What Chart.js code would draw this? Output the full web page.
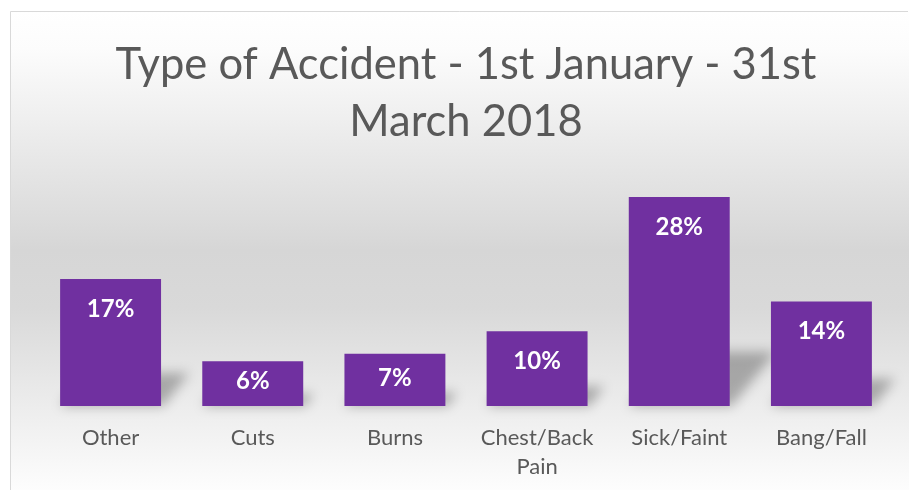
<!DOCTYPE html>
<html>
<head>
<meta charset="utf-8">
<script src="https://cdn.jsdelivr.net/npm/chart.js@4.4.1/dist/chart.umd.min.js"></script>
<style>
  html, body { margin: 0; padding: 0; background: #ffffff; }
  #wrap { position: relative; width: 909px; height: 490px; }
</style>
</head>
<body>
<div id="wrap"><canvas id="c" width="909" height="490"></canvas></div>
<script>
const categories = ["Other", "Cuts", "Burns", ["Chest/Back", "Pain"], "Sick/Faint", "Bang/Fall"];
const percentValues = [17, 6, 7, 10, 28, 14];
const chartTitle = ["Type of Accident - 1st January - 31st", "March 2018"];

const BASE_FONT = "Lato, 'Open Sans', 'DejaVu Sans', sans-serif";

const backgroundPlugin = {
  id: 'bgPlugin',
  beforeDraw(chart) {
    const ctx = chart.ctx;
    const W = chart.width, H = chart.height;
    ctx.save();
    const g = ctx.createLinearGradient(0, 11, 0, H);
    g.addColorStop(0, '#ffffff');
    g.addColorStop(0.08, '#fcfcfc');
    g.addColorStop(0.5, '#d6d6d6');
    g.addColorStop(0.62, '#d9d9d9');
    g.addColorStop(1, '#fdfdfd');
    ctx.fillStyle = g;
    ctx.fillRect(10, 11, W - 10, H - 11);
    ctx.strokeStyle = '#d9d9d9';
    ctx.lineWidth = 1;
    ctx.beginPath();
    ctx.moveTo(10.5, H);
    ctx.lineTo(10.5, 11.5);
    ctx.lineTo(W - 1, 11.5);
    ctx.stroke();
    ctx.restore();
  }
};

const shadowPlugin = {
  id: 'shadowPlugin',
  beforeDatasetsDraw(chart) {
    const ctx = chart.ctx;
    const meta = chart.getDatasetMeta(0);
    ctx.save();
    ctx.filter = 'blur(6px)';
    ctx.fillStyle = 'rgba(0,0,0,0.28)';
    meta.data.forEach(bar => {
      const p = bar.getProps(['x', 'y', 'base', 'width'], true);
      const h = p.base - p.y;
      const sh = Math.max(12, h * 0.26);
      const shift = sh * 0.85;
      const l = p.x - p.width / 2, r = p.x + p.width / 2;
      ctx.beginPath();
      ctx.moveTo(l, p.base);
      ctx.lineTo(r + 2, p.base);
      ctx.lineTo(r + shift, p.base - sh);
      ctx.lineTo(l + shift, p.base - sh);
      ctx.closePath();
      ctx.fill();
    });
    ctx.restore();
  }
};

const labelPlugin = {
  id: 'labelPlugin',
  afterDatasetsDraw(chart) {
    const ctx = chart.ctx;
    const meta = chart.getDatasetMeta(0);
    const data = chart.data.datasets[0].data;
    ctx.save();
    ctx.fillStyle = '#ffffff';
    ctx.font = "bold 24px " + BASE_FONT;
    ctx.textAlign = 'center';
    ctx.textBaseline = 'middle';
    meta.data.forEach((bar, i) => {
      const p = bar.getProps(['x', 'y', 'base'], true);
      const y = Math.min(p.y + 30, (p.y + p.base) / 2 - 2);
      ctx.fillText(data[i] + '%', p.x, y);
    });
    ctx.restore();
  }
};

new Chart(document.getElementById('c'), {
  type: 'bar',
  data: {
    labels: categories,
    datasets: [{
      data: percentValues,
      backgroundColor: '#7030A0',
      borderWidth: 0,
      categoryPercentage: 0.71,
      barPercentage: 1.0
    }]
  },
  options: {
    responsive: false,
    animation: false,
    devicePixelRatio: 1,
    layout: { padding: { left: 39.5, right: 16.5, top: 0, bottom: 0 } },
    plugins: {
      legend: { display: false },
      tooltip: { enabled: false },
      title: {
        display: true,
        text: chartTitle,
        color: '#595959',
        font: { family: BASE_FONT, size: 43.5, weight: 'normal', lineHeight: 1.31 },
        padding: { top: 36, bottom: 32 }
      }
    },
    scales: {
      x: {
        grid: { display: false, drawTicks: false, tickLength: 0 },
        border: { display: false },
        ticks: {
          color: '#595959',
          font: { family: BASE_FONT, size: 22, lineHeight: 1.32 },
          padding: 17,
          maxRotation: 0,
          autoSkip: false
        },
        afterFit(scale) { scale.height = 84; }
      },
      y: {
        display: false,
        min: 0,
        max: 30,
        grid: { display: false }
      }
    }
  },
  plugins: [backgroundPlugin, shadowPlugin, labelPlugin]
});
</script>
</body>
</html>
